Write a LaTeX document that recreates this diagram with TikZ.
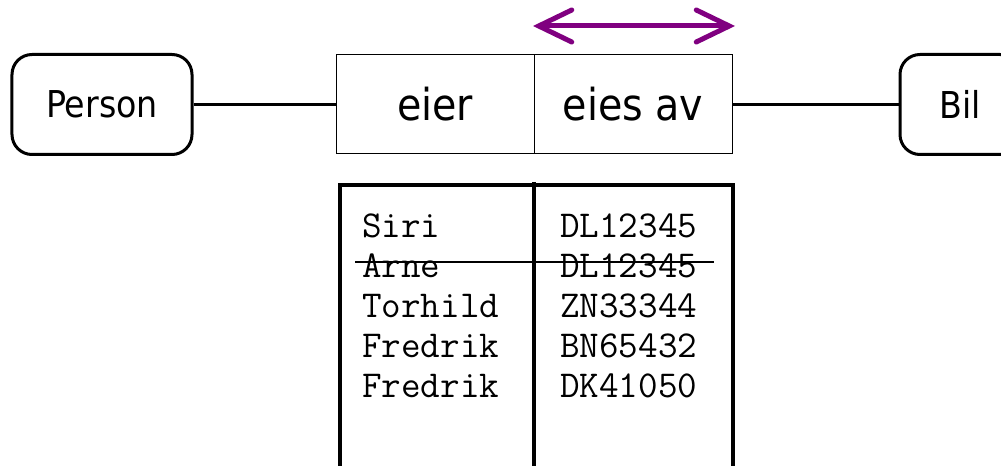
\documentclass[tikz,border=0pt]{standalone}
\usepackage{fontspec}
\setmainfont{DejaVu Sans Condensed}
\usetikzlibrary{arrows.meta}
\definecolor{rolepurple}{RGB}{128,0,128}
\begin{document}
\begin{tikzpicture}[x=1bp, y=-1bp]
  \tikzstyle{entity}=[draw, rounded corners=20bp, line width=3bp, minimum height=100bp, inner sep=0pt, font=\fontsize{37bp}{44bp}\selectfont]
  \tikzstyle{role}=[draw, line width=1bp, minimum width=198bp, minimum height=99bp, inner sep=0pt, font=\fontsize{44bp}{52bp}\selectfont]
  \tikzstyle{cell}=[anchor=west, inner sep=0pt, font=\ttfamily\fontsize{38bp}{44bp}\selectfont]

  \clip (0, 0) rectangle (1001, 466);

  \path
    (102, 104.5) node[entity, minimum width=180bp] (person) {Person}
    (435, 104.5) node[role] (eier) {eier}
    (633, 104.5) node[role] (eiesav) {eies av}
    (960, 104.5) node[entity, minimum width=120bp] (bil) {Bil};

  \foreach \f/\t in {person/eier,eiesav/bil}
    \draw[line width=3bp]
      (\f) -- (\t);

  \coordinate (al) at (533, 26);
  \coordinate (ar) at (735, 26);
  \draw[rolepurple, line width=5bp, line cap=round,
    {Straight Barb[length=33bp, width=32bp, line cap=round]}-{Straight Barb[length=33bp, width=32bp, line cap=round]}]
    (al) -- (ar);

  \draw[line width=3.5bp]
    (340, 480) -- (340, 185) -- (733, 185) -- (733, 480)
    (534, 182) -- (534, 480);

  \foreach \name/\reg [count=\i] in {Siri/DL12345,Arne/DL12345,Torhild/ZN33344,Fredrik/BN65432,Fredrik/DK41050}
  {
    \node[cell] (own\i) at (362, 186 + 40*\i) {\name};
    \node[cell] (car\i) at (560, 186 + 40*\i) {\reg};
  }

  \coordinate (sl) at (355, 262);
  \coordinate (sr) at (714, 262);
  \draw[line width=1.5bp] (sl) -- (sr);

  \useasboundingbox (0, 0) rectangle (1001, 466);
\end{tikzpicture}
\end{document}
